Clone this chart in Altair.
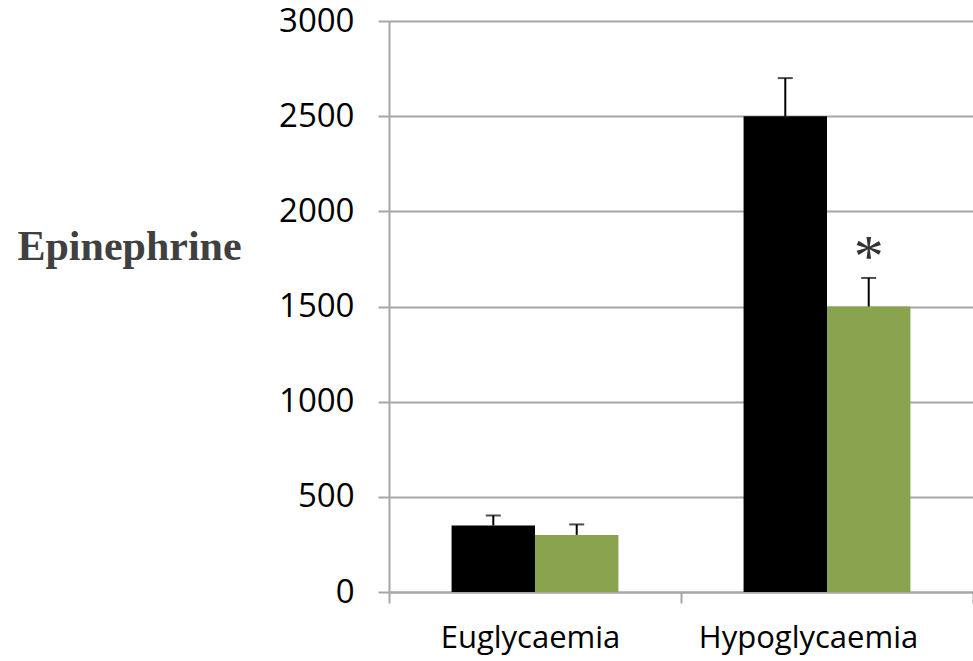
import altair as alt
import pandas as pd

categories = ["Euglycaemia", "Euglycaemia", "Hypoglycaemia", "Hypoglycaemia"]
groups = ["Group 1", "Group 2", "Group 1", "Group 2"]
values = [350, 300, 2500, 1500]
errors = [52, 55, 200, 150]
marks = ["", "", "", "*"]

df = pd.DataFrame({"cat": categories, "grp": groups, "val": values, "err": errors, "mark": marks})
df["upper"] = df["val"] + df["err"]

GRAY = "#A6A6A6"
xenc = alt.X("cat:N", title=None,
             scale=alt.Scale(paddingInner=0, paddingOuter=0),
             axis=alt.Axis(labelAngle=0, tickBand="extent", domainColor=GRAY, domainWidth=2,
                           tickColor=GRAY, tickWidth=2, tickSize=11, labelPadding=20, labelLimit=0,
                           labelFont="Open Sans", labelFontSize=31, labelColor="#000000",
                           labelOffset=alt.condition("datum.value == 'Hypoglycaemia'", alt.value(-19), alt.value(-5))))
xoff = alt.XOffset("grp:N", scale=alt.Scale(paddingInner=0, paddingOuter=0.75))
yscale = alt.Scale(domain=[0, 3000])

bars = alt.Chart(df).mark_bar(stroke=None).encode(
    x=xenc, xOffset=xoff,
    y=alt.Y("val:Q", scale=yscale, title="Epinephrine",
            axis=alt.Axis(values=[0, 500, 1000, 1500, 2000, 2500, 3000], format="d",
                          domainColor=GRAY, domainWidth=2,
                          tickColor=GRAY, tickWidth=2, tickSize=11, gridColor=GRAY, gridWidth=2,
                          labelFont="Open Sans", labelFontSize=33, labelColor="#000000", labelPadding=24,
                          titleAngle=0, titleFont="Liberation Serif", titleFontWeight="bold",
                          titleFontSize=42, titleColor="#404040", titleAlign="left",
                          titleBaseline="alphabetic", titleX=-372, titleY=238)),
    color=alt.Color("grp:N", scale=alt.Scale(range=["#000000", "#89A34F"]), legend=None),
)

stems = alt.Chart(df).mark_rule(color="#000000", strokeWidth=2).encode(
    x=xenc, xOffset=xoff, y=alt.Y("val:Q", scale=yscale), y2="upper:Q")
caps = alt.Chart(df).mark_tick(color="#000000", thickness=2, size=15, orient="horizontal").encode(
    x=xenc, xOffset=xoff, y=alt.Y("upper:Q", scale=yscale))
stars = alt.Chart(df).mark_text(font="Liberation Serif", fontSize=60, color="#333333", baseline="middle", dy=-20).encode(
    x=xenc, xOffset=xoff, y=alt.Y("upper:Q", scale=yscale), text="mark:N")

chart = alt.layer(bars, stems, caps, stars).properties(
    width=584, height=571,
    autosize=alt.AutoSizeParams(type="none"),
    padding={"left": 389, "top": 21, "right": 0, "bottom": 69},
).configure_view(stroke=None).configure(background="white")

chart.save("out.html", embed_options={"renderer": "svg", "actions": False})
